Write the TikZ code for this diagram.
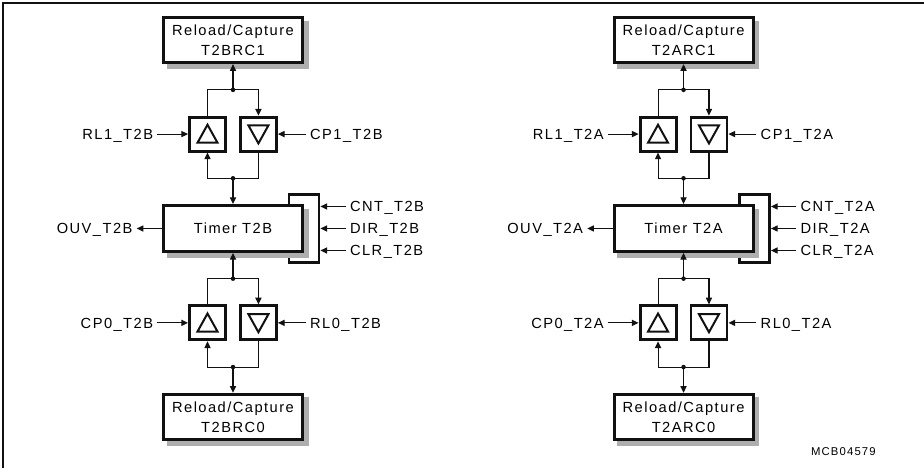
\documentclass[tikz,border=0pt]{standalone}
\usepackage{fontspec}
\newfontfamily\diafont[LetterSpace=10]{Liberation Sans}
\usepackage{tikz}
\usetikzlibrary{arrows.meta,positioning,calc,backgrounds}
\definecolor{ink}{HTML}{111111}
\definecolor{boxshadow}{HTML}{AEAEAE}

\begin{document}
\begin{tikzpicture}[
  node distance=38.6pt and 9pt,
  rcbox/.style={draw=ink,line width=2.2pt,fill=white,minimum width=104.25pt,minimum height=34pt,align=center,font=\diafont\fontsize{11}{15}\selectfont},
  tmrbox/.style={rcbox,minimum height=34.5pt},
  ctlbox/.style={draw=ink,line width=2.2pt,minimum width=22.5pt,minimum height=51pt},
  cmpup/.style={draw=ink,line width=2.2pt,fill=white,minimum width=27pt,minimum height=25.5pt,
    path picture={\draw[ink,line width=1.5pt] ([shift={(-7.5pt,-6.5pt)}]path picture bounding box.center) -- ++(15pt,0) -- ++(-7.5pt,13.5pt) -- cycle;}},
  cmpdn/.style={draw=ink,line width=2.2pt,fill=white,minimum width=27pt,minimum height=25.5pt,
    path picture={\draw[ink,line width=1.5pt] ([shift={(-7.5pt,6.5pt)}]path picture bounding box.center) -- ++(15pt,0) -- ++(-7.5pt,-13.5pt) -- cycle;}},
  sig/.style={font=\diafont\fontsize{11}{13}\selectfont,inner sep=3pt,text height=7.9pt,text depth=0pt},
  wire/.style={line width=0.8pt,draw=ink},
  arr/.style={wire,-{Triangle[length=5pt,width=4.6pt]}}
]
\useasboundingbox (0,0) rectangle (693pt,-351pt);
\draw[ink,line width=1.3pt] (2.3pt,-351pt) |- (693pt,-2.3pt);

\foreach \tm/\dx in {B/0pt,A/337.9pt}{
  \node[rcbox] (rc1\tm) at (174.75pt+\dx,-30pt) {Reload/Capture\\T2\tm RC1};
  \node[cmpup,below=of rc1\tm,xshift=-19.125pt] (up1\tm) {};
  \node[cmpdn,right=of up1\tm] (dn1\tm) {};
  \node[tmrbox,below=of up1\tm,xshift=19.125pt] (tmr\tm) {Timer T2\tm};
  \node[cmpup,below=of tmr\tm,xshift=-19.125pt] (up0\tm) {};
  \node[cmpdn,right=of up0\tm] (dn0\tm) {};
  \node[rcbox,below=of up0\tm,xshift=19.125pt] (rc0\tm) {Reload/Capture\\T2\tm RC0};
  \begin{scope}[on background layer]
    \node[ctlbox] (ctl\tm) at (tmr\tm.east) {};
    \foreach \b in {rc1,tmr,rc0}
      \fill[boxshadow] ([shift={(3.5pt,-3.5pt)}]\b\tm.south west) rectangle ([shift={(3.5pt,-3.5pt)}]\b\tm.north east);
  \end{scope}

  % junctions
  \coordinate (j1\tm) at ($(rc1\tm.south)!.5!(rc1\tm.south |- up1\tm.north)$);
  \coordinate (j2\tm) at ($(tmr\tm.north)!.5!(tmr\tm.north |- up1\tm.south)$);
  \coordinate (j3\tm) at ($(tmr\tm.south)!.5!(tmr\tm.south |- up0\tm.north)$);
  \coordinate (j4\tm) at ($(rc0\tm.north)!.5!(rc0\tm.north |- up0\tm.south)$);

  \draw[arr] (j1\tm) -- (rc1\tm.south);
  \draw[wire] (up1\tm.north) |- (j1\tm);
  \draw[arr] (j1\tm) -| (dn1\tm.north);
  \draw[arr] (j2\tm) -| (up1\tm.south);
  \draw[wire] (dn1\tm.south) |- (j2\tm);
  \draw[arr] (j2\tm) -- (tmr\tm.north);
  \draw[arr] (j3\tm) -- (tmr\tm.south);
  \draw[wire] (up0\tm.north) |- (j3\tm);
  \draw[arr] (j3\tm) -| (dn0\tm.north);
  \draw[arr] (j4\tm) -| (up0\tm.south);
  \draw[wire] (dn0\tm.south) |- (j4\tm);
  \draw[arr] (j4\tm) -- (rc0\tm.north);
  \foreach \j in {1,2,3,4} \fill[ink] (j\j\tm) circle (1.7pt);

  % signals
  \node[sig,left=23pt of up1\tm] (rl1\tm) {RL1\_T2\tm};
  \node[sig,right=21pt of dn1\tm] (cp1\tm) {CP1\_T2\tm};
  \node[sig,left=23pt of up0\tm] (cp0\tm) {CP0\_T2\tm};
  \node[sig,right=21pt of dn0\tm] (rl0\tm) {RL0\_T2\tm};
  \node[sig,left=19pt of tmr\tm] (ouv\tm) {OUV\_T2\tm};
  \node[sig,anchor=west] (cnt\tm) at ([xshift=19pt,yshift=16.5pt]ctl\tm.east) {CNT\_T2\tm};
  \node[sig,anchor=west] (dir\tm) at ([xshift=19pt]ctl\tm.east) {DIR\_T2\tm};
  \node[sig,anchor=west] (clr\tm) at ([xshift=19pt,yshift=-16.5pt]ctl\tm.east) {CLR\_T2\tm};

  \draw[arr] (rl1\tm.east) -- (up1\tm.west);
  \draw[arr] (cp1\tm.west) -- (dn1\tm.east);
  \draw[arr] (cp0\tm.east) -- (up0\tm.west);
  \draw[arr] (rl0\tm.west) -- (dn0\tm.east);
  \draw[arr] (tmr\tm.west) -- (ouv\tm.east);
  \draw[arr] (cnt\tm.west) -- (cnt\tm.west -| ctl\tm.east);
  \draw[arr] (dir\tm.west) -- (dir\tm.west -| ctl\tm.east);
  \draw[arr] (clr\tm.west) -- (clr\tm.west -| ctl\tm.east);
}

\node[anchor=east,inner sep=0pt,font=\diafont\fontsize{8.5}{10}\selectfont] (code) at (657pt,-339pt) {MCB04579};
\end{tikzpicture}
\end{document}
